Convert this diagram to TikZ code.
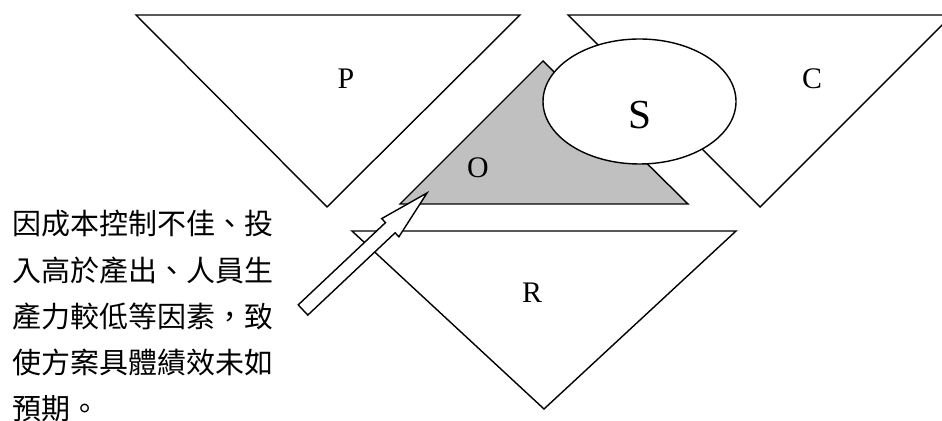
\documentclass[tikz,border=0pt]{standalone}
\usepackage{fontspec}
\setmainfont{Liberation Serif}
\newfontfamily\cjk{Noto Sans CJK TC}
\definecolor{shade}{RGB}{192,192,192}
\tikzset{
	tri/.style={draw, fill=white, line width=0.8pt, line join=miter},
	lbl/.style={font=\fontsize{17}{20}\selectfont},
}

\begin{document}
\begin{tikzpicture}[x=0.02cm,y=-0.02cm]
						\clip (0,0) rectangle (942,421);
						
						\draw[tri] (136,15)--(520,15)--(327,207)--cycle;
						\draw[tri] (568,15)--(952,15)--(760,207)--cycle;
						\draw[tri, fill=shade] (400,204)--(543,61)--(688,204)--cycle;
						\draw[tri] (352,231)--(736,231)--(544,409)--cycle;
						\draw[tri] (639.5,101.5) ellipse [x radius=96.5, y radius=62.5];
						
						% block arrow
						\draw[tri] (298.2,304.9)--(385.5,222.6)--(381.7,218.6)--(427,193)--(398.9,236.8)--(395.1,232.8)--(307.8,315.1)--cycle;
						
						\node[lbl] (P) at (346,79) {P};
						\node[lbl] (C) at (812,79) {C};
						\node[lbl] (O) at (478,168) {O};
						\node[lbl] (R) at (532,293) {R};
						\node[font=\fontsize{23.5}{26}\selectfont] (S) at (640,115) {S};
						
						\node[anchor=north west, inner sep=0, align=left, font=\cjk\fontsize{16.5}{26.3}\selectfont] (note) at (12,210) {因成本控制不佳、投\\入高於產出、人員生\\產力較低等因素，致\\使方案具體績效未如\\預期。};
					\end{tikzpicture}
\end{document}
